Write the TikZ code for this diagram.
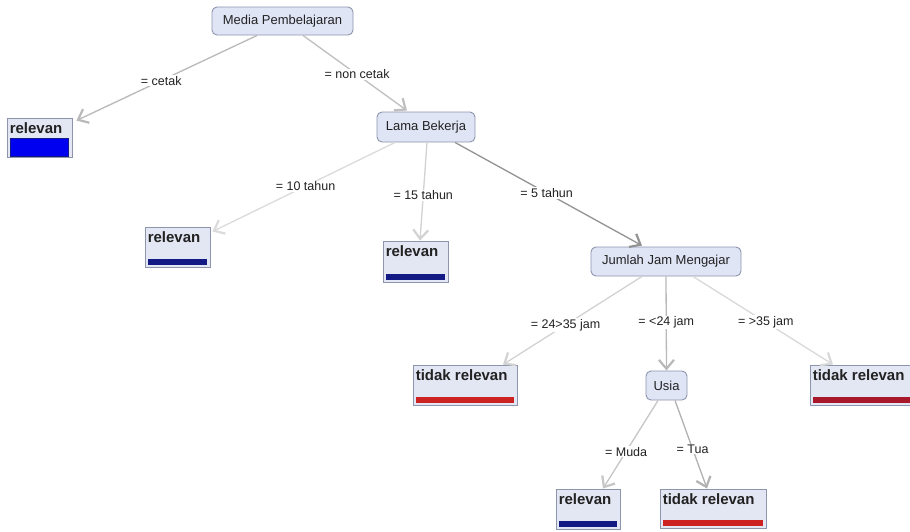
\documentclass[tikz,border=0pt]{standalone}
\usepackage{fontspec}
\setmainfont{Liberation Sans}
\usetikzlibrary{arrows.meta}

\definecolor{nodefill}{HTML}{E0E5F6}
\definecolor{nodeline}{HTML}{8D95AC}
\definecolor{leaffill}{HTML}{E3E7F4}
\definecolor{relblue}{HTML}{0000F0}
\definecolor{relnavy}{HTML}{141A84}
\definecolor{tidakred}{HTML}{CC2222}
\definecolor{tidakdark}{HTML}{A8182A}
\definecolor{txt}{HTML}{222222}

\tikzset{
    attr/.style={draw=nodeline, fill=nodefill, rounded corners=5pt, line width=0.9pt,
                 text=txt, font=\fontsize{13}{15}\selectfont, inner sep=0pt},
    leaf/.style={draw=nodeline, fill=leaffill, line width=0.9pt, inner sep=0pt},
    leaftxt/.style={anchor=north west, inner xsep=3pt, inner ysep=4.5pt, text=txt,
                    font=\fontsize{15}{17}\selectfont\bfseries},
    edge/.style={line width=1.3pt, -{Straight Barb[length=9pt,width=15pt,line width=2.2pt]}},
    elabel/.style={fill=white, inner sep=1pt, text=txt, font=\fontsize{12.5}{14}\selectfont}
}

\begin{document}
\begin{tikzpicture}[x=1pt,y=-1pt]

    \useasboundingbox[fill=white] (0,0) rectangle (910,531);

    % Simpul atribut
    \node[attr, minimum width=141pt, minimum height=28pt] (media)  at (282.5,21)  {Media Pembelajaran};
    \node[attr, minimum width=98pt,  minimum height=30pt] (lama)   at (426,127)   {Lama Bekerja};
    \node[attr, minimum width=150pt, minimum height=29pt] (jumlah) at (666,261.5) {Jumlah Jam Mengajar};
    \node[attr, minimum width=41pt,  minimum height=29pt] (usia)   at (666.5,385.5) {Usia};

    % Daun
    \foreach \n/\x/\y/\w/\h/\lbl in {
        rel1/39.5/137.5/65/39/relevan,
        rel2/177.5/247/65/40/relevan,
        rel3/415.5/261.5/65/41/relevan,
        tr1/465/385/104/40/tidak relevan,
        tr2/862.5/385/105/40/tidak relevan,
        rel4/588/509/64/40/relevan,
        tr3/713/508.5/106/39/tidak relevan
    }{
        \node[leaf, minimum width=\w pt, minimum height=\h pt] (\n) at (\x,\y) {};
        \node[leaftxt] at (\n.north west) {\lbl};
    }

    % Batang kelas
    \draw[fill=relblue, draw=relnavy, line width=0.8pt]
        ([xshift=4pt,yshift=1.5pt]rel1.south west) rectangle ([xshift=-4pt,yshift=19pt]rel1.south east);
    \foreach \n/\c in {rel2/relnavy, rel3/relnavy, rel4/relnavy, tr1/tidakred, tr2/tidakdark, tr3/tidakred}{
        \fill[\c] ([xshift=3pt,yshift=2pt]\n.south west) rectangle ([xshift=-3pt,yshift=8pt]\n.south east);
    }

    % ---- Cabang ----
    \draw[edge, gray!55] ([xshift=-25.5pt]media.south) -- ([xshift=4pt,yshift=-3pt]rel1.north east)
        node[elabel, pos=0.53] {= cetak};
    \draw[edge, gray!50] ([xshift=20.5pt]media.south) -- ([xshift=-19pt,yshift=1pt]lama.north)
        node[elabel, pos=0.52] {= non cetak};

    \draw[edge, gray!28] ([xshift=-31pt]lama.south) -- ([xshift=2pt,yshift=-5pt]rel2.north east)
        node[elabel, pos=0.49] {= 10 tahun};
    \draw[edge, gray!35] ([xshift=1pt]lama.south) -- ([xshift=4.5pt]rel3.north)
        node[elabel, pos=0.54] {= 15 tahun};
    \draw[edge, gray!85] ([xshift=29pt]lama.south) -- ([xshift=-24pt,yshift=1pt]jumlah.north)
        node[elabel, pos=0.49] {= 5 tahun};

    \draw[edge, gray!35] ([xshift=-24pt]jumlah.south) -- ([xshift=38pt]tr1.north)
        node[elabel, pos=0.55] {= 24>35 jam};
    \draw[edge, gray!55] (jumlah.south) -- (usia.north)
        node[elabel, pos=0.49] {= <24 jam};
    \draw[edge, gray!30] ([xshift=27pt]jumlah.south) -- ([xshift=-29.5pt]tr2.north)
        node[elabel, pos=0.52] {= >35 jam};

    \draw[edge, gray!45] ([xshift=-8.5pt]usia.south) -- ([xshift=15pt]rel4.north)
        node[elabel, pos=0.58] {= Muda};
    \draw[edge, gray!60] ([xshift=8.5pt]usia.south) -- ([xshift=-6pt]tr3.north)
        node[elabel, pos=0.55] {= Tua};

\end{tikzpicture}
\end{document}
